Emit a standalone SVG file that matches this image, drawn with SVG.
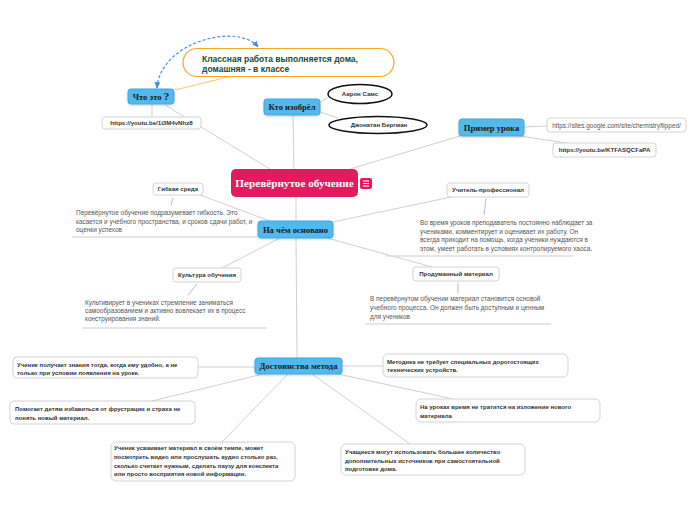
<svg xmlns="http://www.w3.org/2000/svg" width="696" height="520" viewBox="0 0 696 520">
<defs>
<style>
.bg{fill:#ffffff}
.con{stroke:#cfcfcf;stroke-width:1;fill:none}
.sub{stroke:#a8a8a8;stroke-width:0.8;fill:none}
.ul{stroke:#dcdcdc;stroke-width:1.5}
.blue{fill:#52b9ec;stroke:#3ea8df;stroke-width:1}
.blab{font-family:"Liberation Serif",serif;font-weight:bold;font-size:8.6px;fill:#1a1a1a;text-anchor:middle}
.wbox{fill:#ffffff;stroke:#d2d2d2;stroke-width:1}
.slab{font-family:"Liberation Sans",Arial,sans-serif;font-weight:bold;font-size:6.1px;fill:#333;text-anchor:middle}
.desc{font-family:"Liberation Sans",Arial,sans-serif;font-size:6.45px;fill:#555}
.btxt{font-family:"Liberation Sans",Arial,sans-serif;font-weight:bold;font-size:6.0px;fill:#333}
.ell{fill:#ffffff;stroke:#111;stroke-width:1.5}
</style>
<marker id="ah" viewBox="0 0 10 10" refX="8" refY="5" markerWidth="6" markerHeight="6" orient="auto-start-reverse">
<path d="M0,1 L9,5 L0,9 z" fill="#3b8fe0"/>
</marker>
<filter id="sh" x="-10%" y="-20%" width="120%" height="150%">
<feDropShadow dx="0" dy="1" stdDeviation="0.8" flood-color="#000" flood-opacity="0.18"/>
</filter>
</defs>
<rect class="bg" x="0" y="0" width="696" height="520"/>

<g id="connectors">
<path class="con" d="M270,169 L165,105"/>
<path class="con" d="M294,169 L293,115"/>
<path class="con" d="M350,169 L460,136"/>
<path class="con" d="M296,197 L296,221"/>
<path class="con" d="M152,104 L152,117"/>
<path d="M175,90 L228,77" stroke="#f9c77a" stroke-width="1.2" fill="none"/>
<path d="M157,88 C160,42 238,22 258,47" stroke="#3b8fe0" stroke-width="1.2" stroke-dasharray="3,2" fill="none" marker-start="url(#ah)" marker-end="url(#ah)"/>
<path class="con" d="M320,102 L329,97"/>
<path class="con" d="M320,112 L338,118"/>
<path class="con" d="M524,127 L547,126"/>
<path class="con" d="M520,136 L566,143"/>
<path class="con" d="M270,221 L200,195"/>
<path class="con" d="M333,222 L451,197"/>
<path class="con" d="M327,238 L432,267"/>
<path class="con" d="M280,238 L222,268"/>
<path class="con" d="M296,238 L297,358"/>
<path class="con" d="M255,367 L198,367"/>
<path class="con" d="M263,374 L152,401"/>
<path class="con" d="M288,374 L222,442"/>
<path class="con" d="M312,374 L410,444"/>
<path class="con" d="M338,374 L453,399"/>
<path class="con" d="M342,366 L383,366"/>
<path class="sub" d="M173,198 L171,205"/>
<path class="sub" d="M486,199 L484,215"/>
<path class="sub" d="M458,283 L458,293"/>
<path class="sub" d="M197,284 L188,295"/>
</g>

<g id="central">
<rect x="231" y="169" width="127" height="28" rx="5" fill="#e31b5d"/>
<text x="294.5" y="187" font-family="Liberation Serif,serif" font-weight="bold" font-size="11.2" fill="#ffffff" text-anchor="middle">Перевёрнутое обучение</text>
<rect x="360" y="178" width="12" height="11" rx="2" fill="#e31b5d"/>
<path d="M363,181 H369 M363,183.5 H369 M363,186 H369" stroke="#ffffff" stroke-width="1"/>
</g>

<g id="chto-eto">
<rect class="blue" x="128" y="89" width="46" height="15" rx="3" filter="url(#sh)"/>
<text class="blab" x="151" y="100">Что это <tspan font-size="11">?</tspan></text>
</g>

<g id="url1">
<rect class="wbox" x="102" y="117" width="99" height="12" rx="3"/>
<text class="slab" x="151.5" y="125.3" font-size="6.7">https://youtu.be/1i3M4vNhz8</text>
</g>

<g id="klassnaya">
<rect x="183" y="48.5" width="211" height="28" rx="14" fill="#ffffff" stroke="#f6a623" stroke-width="1.2"/>
<text x="202" y="61.5" font-family="Liberation Sans,Arial,sans-serif" font-weight="bold" font-size="8.5" fill="#1b4a36">Классная работа  выполняется дома,</text>
<text x="202" y="72" font-family="Liberation Sans,Arial,sans-serif" font-weight="bold" font-size="8.5" fill="#1b4a36">домашняя - в классе</text>
</g>

<g id="kto-izobrel">
<rect class="blue" x="264" y="99" width="56" height="16" rx="3" filter="url(#sh)"/>
<text class="blab" x="292" y="110">Кто изобрёл</text>
</g>

<g id="aaron">
<ellipse class="ell" cx="360" cy="94" rx="32" ry="9.5"/>
<text class="slab" x="360" y="96.2" font-size="6.3">Аарон Самс</text>
</g>

<g id="jonathan">
<ellipse class="ell" cx="378" cy="125" rx="49" ry="8.5"/>
<text class="slab" x="379" y="127.2" font-size="6.3">Джонатан Бергман</text>
</g>

<g id="primer">
<rect class="blue" x="459" y="119" width="65" height="17" rx="3" filter="url(#sh)"/>
<text class="blab" x="491.5" y="130.5">Пример урока</text>
</g>

<g id="url-sites">
<rect class="wbox" x="547" y="118" width="139" height="14" rx="3"/>
<text x="616.5" y="127.5" font-family="Liberation Sans,Arial,sans-serif" font-size="6.4" fill="#555" text-anchor="middle">https://sites.google.com/site/chemistryflipped/</text>
</g>

<g id="url-ktf">
<rect class="wbox" x="553" y="143" width="103" height="14" rx="3"/>
<text class="slab" x="604.5" y="152.4" font-size="6.6">https://youtu.be/KTFASQCFaPA</text>
</g>

<g id="na-chem">
<rect class="blue" x="258" y="221" width="75" height="17" rx="3" filter="url(#sh)"/>
<text class="blab" x="295.5" y="232.5">На чём основано</text>
</g>

<g id="gibkaya">
<rect class="wbox" x="153" y="183" width="50" height="12" rx="3"/>
<text class="slab" x="178" y="191.2">Гибкая среда</text>
<text class="desc" x="76" y="215">Перевёрнутое обучение подразумевает гибкость. Это</text>
<text class="desc" x="76" y="223.5">касается и учебного пространства, и сроков сдачи работ, и</text>
<text class="desc" x="76" y="232">оценки успехов</text>
<line class="ul" x1="72" y1="237" x2="257" y2="237"/>
</g>

<g id="uchitel">
<rect class="wbox" x="447" y="183" width="82" height="14" rx="3"/>
<text class="slab" x="488" y="192.2">Учитель-профессионал</text>
<text class="desc" x="420" y="225">Во время уроков преподаватель постоянно наблюдает за</text>
<text class="desc" x="420" y="233.5">учениками, комментирует и оценивает их работу. Он</text>
<text class="desc" x="420" y="242">всегда приходит на помощь, когда ученики нуждаются в</text>
<text class="desc" x="420" y="250.5">этом, умеет работать в условиях контролируемого хаоса.</text>
<line class="ul" x1="386" y1="256" x2="573" y2="256"/>
</g>

<g id="produmanny">
<rect class="wbox" x="413" y="267" width="86" height="14" rx="3"/>
<text class="slab" x="456" y="276.2">Продуманный материал</text>
<text class="desc" x="370" y="301">В перевёрнутом обучении материал становится основой</text>
<text class="desc" x="370" y="310">учебного процесса. Он должен быть доступным и ценным</text>
<text class="desc" x="370" y="319">для учеников</text>
<line class="ul" x1="365" y1="324" x2="551" y2="324"/>
</g>

<g id="kultura">
<rect class="wbox" x="173" y="268" width="68" height="14" rx="3"/>
<text class="slab" x="207" y="277.2">Культура обучения</text>
<text class="desc" x="85" y="305">Культивирует в учениках стремление заниматься</text>
<text class="desc" x="85" y="313">самообразованием и активно вовлекает их в процесс</text>
<text class="desc" x="85" y="321">конструирования знаний.</text>
<line class="ul" x1="82" y1="328" x2="267" y2="328"/>
</g>

<g id="dostoinstva">
<rect class="blue" x="255" y="358" width="87" height="16" rx="3" filter="url(#sh)"/>
<text class="blab" x="298.5" y="369">Достоинства метода</text>
</g>

<g id="adv-1">
<rect class="wbox" x="13" y="357" width="185" height="21" rx="4"/>
<text class="btxt" x="17" y="366.5">Ученик получает знания тогда, когда ему удобно, а не</text>
<text class="btxt" x="17" y="374.5">только при условии появления на уроке.</text>
</g>

<g id="adv-2">
<rect class="wbox" x="10" y="401" width="185" height="23" rx="4"/>
<text class="btxt" x="15" y="410.5">Помогает детям избавиться от фрустрации и страха не</text>
<text class="btxt" x="15" y="420">понять новый материал.</text>
</g>

<g id="adv-3">
<rect class="wbox" x="111" y="442" width="184" height="39" rx="5"/>
<text class="btxt" x="114" y="449.5">Ученик усваивает материал в своём темпе, может</text>
<text class="btxt" x="114" y="458.5">посмотреть видео или прослушать аудио столько раз,</text>
<text class="btxt" x="114" y="467.5">сколько считает нужным, сделать паузу для конспекта</text>
<text class="btxt" x="114" y="476">или просто восприятия новой информации.</text>
</g>

<g id="adv-4">
<rect class="wbox" x="341" y="444" width="184" height="31" rx="5"/>
<text class="btxt" x="345" y="454">Учащиеся могут использовать большее количество</text>
<text class="btxt" x="345" y="462.5">дополнительных источников при самостоятельной</text>
<text class="btxt" x="345" y="471">подготовке дома.</text>
</g>

<g id="adv-5">
<rect class="wbox" x="383" y="354" width="185" height="23" rx="5"/>
<text class="btxt" x="387" y="363.5">Методика не требует специальных дорогостоящих</text>
<text class="btxt" x="387" y="372">технических устройств.</text>
</g>

<g id="adv-6">
<rect class="wbox" x="416" y="399" width="184" height="23" rx="5"/>
<text class="btxt" x="420" y="408.5">На уроках время не тратится на изложение нового</text>
<text class="btxt" x="420" y="417.5">материала</text>
</g>
</svg>
